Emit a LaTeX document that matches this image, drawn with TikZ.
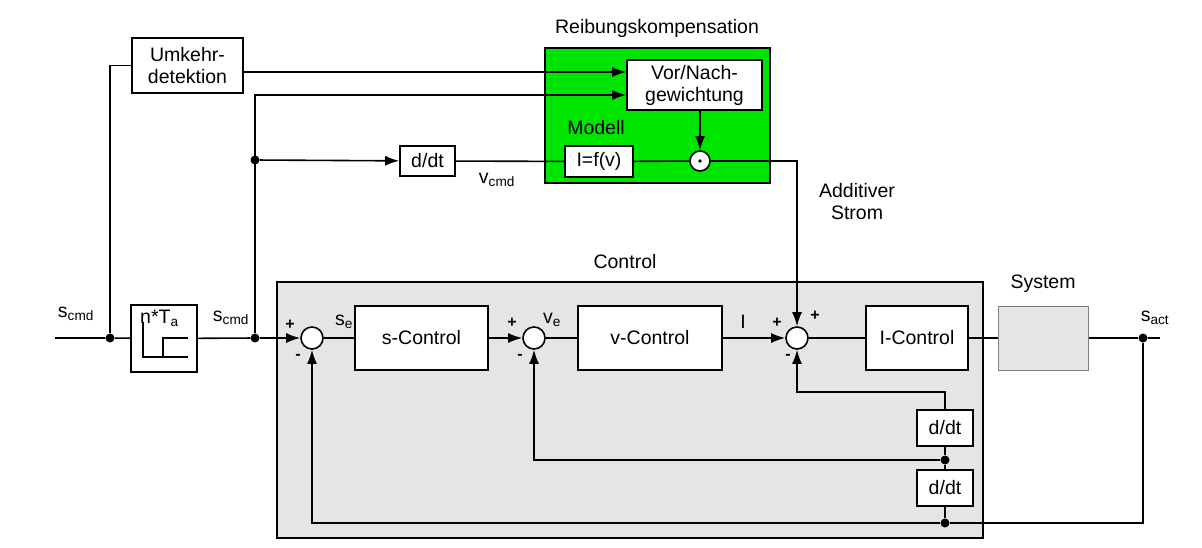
\documentclass[tikz,border=0pt]{standalone}
\usepackage{fontspec}
\setmainfont{Liberation Sans}
\usetikzlibrary{positioning, arrows.meta}
\definecolor{cgreen}{rgb}{0,0.9,0}
\definecolor{cgray}{rgb}{0.9,0.9,0.9}
\tikzset{
Block/.style={
	draw, line width=1.6pt, fill=white,
	align=center, inner sep=0pt
},
Sum/.style={
	draw, line width=1.6pt, circle, fill=white,
	minimum size=22pt, inner sep=0pt
},
Dot/.style={
	circle, fill=black, minimum size=9pt, inner sep=0pt
},
Edge/.style={
	draw=black, line width=1.6pt
},
Arrow/.style={
	Edge, -{Latex[length=14pt, width=10pt]}
},
Sign/.style={
	font=\fontsize{16}{16}\selectfont\bfseries
}
}

\begin{document}
\begin{tikzpicture}[x=1pt, y=-1pt, font=\fontsize{19.5}{22}\selectfont]
	\useasboundingbox (0,0) rectangle (1202,547);
	% background regions
	\draw[line width=1.6pt, fill=cgray] (277,282) rectangle (983,538);
	\node at (625,262) {Control};
	\draw[line width=2pt, fill=cgreen] (545,48) rectangle (770,183);
	\node at (657,28) {Reibungskompensation};

	% blocks
	\node[Block, minimum width=111pt, minimum height=55pt] (umk) at (187.5,65.5) {Umkehr-\\detektion};
	\node[Block, minimum width=66pt, minimum height=67pt] (samp) at (164,338.5) {};
	\node[Block, minimum width=135pt, minimum height=50pt] (vor) at (694.5,85) {Vor/Nach-\\gewichtung};
	\node[Block, minimum width=55pt, minimum height=30pt] (ddt) at (427.5,161) {d/dt};
	\node[Block, minimum width=68pt, minimum height=31pt] (mod) at (599,161.5) {I=f(v)};
	\node[Sum, minimum size=20pt] (mul) at (700,161) {};
	\node[Block, minimum width=133pt, minimum height=64pt] (sc) at (421.5,338) {s-Control};
	\node[Block, minimum width=144pt, minimum height=64pt] (vc) at (650,338) {v-Control};
	\node[Block, minimum width=102pt, minimum height=64pt] (ic) at (917,338) {I-Control};
	\node[Block, draw=gray, line width=1pt, fill=cgray, minimum width=90pt, minimum height=64pt] (sys) at (1043,338) {};
	\node at (1043,284) {System};
	\node[Block, minimum width=56pt, minimum height=36pt] (dv) at (945,428) {d/dt};
	\node[Block, minimum width=56pt, minimum height=36pt] (ds) at (945,488) {d/dt};
	\node[Sum] (s1) at (312,338) {};
	\node[Sum] (s2) at (534,338) {};
	\node[Sum] (s3) at (797,338) {};

	% sample symbol
	\node[anchor=north west, inner sep=0pt] at (140,310) {n*T$_\mathrm{a}$};
	\draw[line width=1.2pt] (143,322) |- (163,357) |- (188,338);
	\draw[line width=1.2pt] (163,357) -- (188,357);
	\fill (700,161) circle (1.8pt);

	% junctions
	\node[Dot] (j0) at (110,338) {};
	\node[Dot] (j1) at (255,338) {};
	\node[Dot] (j2) at (255,160) {};
	\node[Dot] (j3) at (1143,338) {};
	\node[Dot] (j4) at (945,523) {};
	\node[Dot] (j5) at (945,460) {};
	\coordinate (in) at (55,338);
	\coordinate (out) at (1160,338);

	% labels
	\node at (76,314) {s$_\mathrm{cmd}$};
	\node at (231,318) {s$_\mathrm{cmd}$};
	\node at (1155,318) {s$_\mathrm{act}$};
	\node at (344,322) {s$_\mathrm{e}$};
	\node at (552,320) {v$_\mathrm{e}$};
	\node at (743,322) {I};
	\node at (497,180) {v$_\mathrm{cmd}$};
	\node at (596,128) {Modell};
	\node[align=center] at (857,202) {Additiver\\Strom};
	\node[Sign] at (290,325) {+};
	\node[Sign] at (298,357) {-};
	\node[Sign] at (512,323) {+};
	\node[Sign] at (520,357) {-};
	\node[Sign] at (777,323) {+};
	\node[Sign] at (815,316) {+};
	\node[Sign] at (788,357) {-};

	% connectors
	\draw[Edge] (in) -- (j0) -- (samp);
	\draw[Edge] (j0) |- (umk.west);
	\draw[Arrow] (umk.east |- 0,72) -- (vor.west |- 0,72);
	\draw[Edge] (samp) -- (j1);
	\draw[Arrow] (j1) -- (s1);
	\draw[Arrow] (j1) |- (vor.west |- 0,95);
	\draw[Arrow] (j2) -- (ddt);
	\draw[Edge] (ddt) -- (mod);
	\draw[Edge] (mod) -- (mul);
	\draw[Arrow] (vor.south -| mul) -- (mul);
	\draw[Arrow] (mul) -| (s3);
	\draw[Edge] (s1) -- (sc);
	\draw[Arrow] (sc) -- (s2);
	\draw[Edge] (s2) -- (vc);
	\draw[Arrow] (vc) -- (s3);
	\draw[Edge] (s3) -- (ic);
	\draw[Edge] (ic) -- (sys);
	\draw[Edge] (sys) -- (j3) -- (out);
	\draw[Edge] (j3) |- (j4);
	\draw[Arrow] (j4) -| (s1);
	\draw[Edge] (j4) -- (ds) -- (j5) -- (dv);
	\draw[Arrow] (j5) -| (s2);
	\draw[Arrow] (dv.north) |- (945,392) -| (s3);
\end{tikzpicture}
\end{document}
